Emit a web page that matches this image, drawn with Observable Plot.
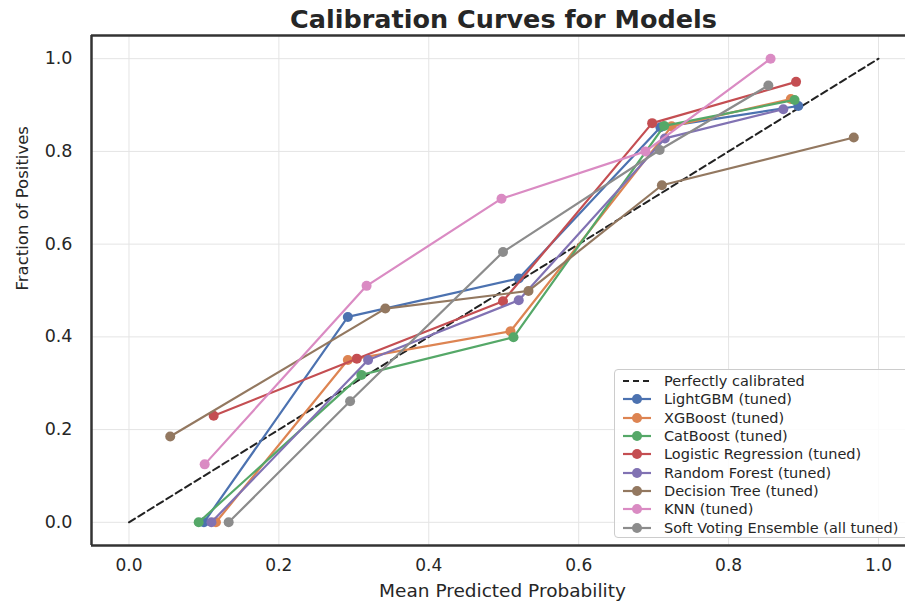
<!DOCTYPE html>
<html>
<head>
<meta charset="utf-8">
<script src="https://cdn.jsdelivr.net/npm/d3@7"></script>
<script src="https://cdn.jsdelivr.net/npm/@observablehq/plot@0.6"></script>
<style>
  html, body { margin: 0; padding: 0; background: #fff; }
  #wrap { position: relative; width: 905px; height: 601px; overflow: hidden; font-family: "DejaVu Sans", sans-serif; }
  #title { position: absolute; top: 3px; left: 91px; width: 825px; text-align: center; font-weight: bold; font-size: 25.5px; line-height: 32px; color: #262626; }
  #chart { position: absolute; top: 30px; left: 0; }
  #legend { position: absolute; left: 614px; top: 369px; width: 300px; height: 169px; box-sizing: border-box;
            border: 1px solid #cccccc; border-radius: 4px; background: rgba(255,255,255,0.85); padding-top: 2px; }
  .row { height: 18.3px; display: flex; align-items: center; font-size: 14.5px; color: #262626; white-space: nowrap; }
  .row svg { margin-left: 7px; margin-right: 12px; flex: none; }
</style>
</head>
<body>
<div id="wrap">
  <div id="title">Calibration Curves for Models</div>
  <div id="chart"></div>
  <div id="legend"></div>
</div>
<script>
// ---- data ----
const models = [
  "LightGBM (tuned)", "XGBoost (tuned)", "CatBoost (tuned)", "Logistic Regression (tuned)",
  "Random Forest (tuned)", "Decision Tree (tuned)", "KNN (tuned)", "Soft Voting Ensemble (all tuned)"
];
const colors = ["#4C72B0", "#DD8452", "#55A868", "#C44E52", "#8172B3", "#937860", "#DA8BC3", "#8C8C8C"];

const lightgbmX = [0.100, 0.292, 0.520, 0.709, 0.893];
const lightgbmY = [0.000, 0.443, 0.526, 0.852, 0.898];
const xgboostX  = [0.116, 0.292, 0.509, 0.724, 0.883];
const xgboostY  = [0.000, 0.350, 0.412, 0.854, 0.913];
const catboostX = [0.093, 0.310, 0.513, 0.714, 0.888];
const catboostY = [0.000, 0.318, 0.399, 0.855, 0.911];
const logregX   = [0.113, 0.304, 0.499, 0.698, 0.890];
const logregY   = [0.230, 0.353, 0.477, 0.861, 0.950];
const rforestX  = [0.110, 0.319, 0.520, 0.715, 0.873];
const rforestY  = [0.000, 0.350, 0.479, 0.828, 0.891];
const dtreeX    = [0.055, 0.342, 0.533, 0.711, 0.967];
const dtreeY    = [0.185, 0.461, 0.499, 0.727, 0.830];
const knnX      = [0.101, 0.317, 0.497, 0.689, 0.856];
const knnY      = [0.125, 0.510, 0.698, 0.800, 1.000];
const ensembleX = [0.133, 0.295, 0.499, 0.708, 0.853];
const ensembleY = [0.000, 0.261, 0.583, 0.803, 0.942];

const perfectX = [0, 1];
const perfectY = [0, 1];

const tickValues = [0, 0.2, 0.4, 0.6, 0.8, 1.0];

const seriesX = [lightgbmX, xgboostX, catboostX, logregX, rforestX, dtreeX, knnX, ensembleX];
const seriesY = [lightgbmY, xgboostY, catboostY, logregY, rforestY, dtreeY, knnY, ensembleY];

// ---- build ----
const perfect = perfectX.map((x, i) => ({x, y: perfectY[i]}));
const seriesMarks = models.flatMap((m, i) => {
  const rows = seriesX[i].map((x, j) => ({model: m, x, y: seriesY[i][j]}));
  return [
    Plot.line(rows, {x: "x", y: "y", stroke: colors[i], strokeWidth: 2.2}),
    Plot.dot(rows, {x: "x", y: "y", fill: colors[i], r: 5, stroke: "none"})
  ];
});

const frameColor = "#333333";
const chart = Plot.plot({
  width: 905,
  height: 571,
  marginLeft: 91,
  marginRight: 0,
  marginTop: 5,
  marginBottom: 56,
  style: {fontFamily: "DejaVu Sans, sans-serif", background: "white", color: "#262626"},
  x: {domain: [-0.05, 1.036], label: null},
  y: {domain: [-0.05, 1.05], label: null},
  marks: [
    Plot.gridX(tickValues, {stroke: "#e4e4e4", strokeOpacity: 1, strokeWidth: 1}),
    Plot.gridY(tickValues, {stroke: "#e4e4e4", strokeOpacity: 1, strokeWidth: 1}),
    Plot.line(perfect, {x: "x", y: "y", stroke: "#222", strokeWidth: 2, strokeDasharray: "7,4"}),
    ...seriesMarks,
    Plot.axisX(tickValues, {tickSize: 0, tickPadding: 13, fontSize: 17, tickFormat: d3.format(".1f"), label: null, fill: "#262626"}),
    Plot.axisY(tickValues, {tickSize: 0, tickPadding: 19, fontSize: 17.5, tickFormat: d3.format(".1f"), label: null, fill: "#262626"}),
    Plot.ruleX([-0.05], {stroke: frameColor, strokeWidth: 2.5}),
    Plot.ruleY([-0.05, 1.05], {stroke: frameColor, strokeWidth: 2.5}),
    Plot.text(["Mean Predicted Probability"], {text: d => d, frameAnchor: "bottom", dy: 51, dx: 4, fontSize: 18.5, fill: "#262626"}),
    Plot.text(["Fraction of Positives"], {text: d => d, frameAnchor: "left", rotate: -90, dx: -69, fontSize: 16.5, fill: "#262626"})
  ]
});
document.getElementById("chart").appendChild(chart);

// ---- legend ----
const legend = document.getElementById("legend");
const entries = [{name: "Perfectly calibrated", color: "#222", dashed: true}]
  .concat(models.map((m, i) => ({name: m, color: colors[i], dashed: false})));
for (const e of entries) {
  const row = document.createElement("div");
  row.className = "row";
  const ns = "http://www.w3.org/2000/svg";
  const s = document.createElementNS(ns, "svg");
  s.setAttribute("width", "30"); s.setAttribute("height", "12");
  const l = document.createElementNS(ns, "line");
  l.setAttribute("x1", "1"); l.setAttribute("x2", "29"); l.setAttribute("y1", "6"); l.setAttribute("y2", "6");
  l.setAttribute("stroke", e.color); l.setAttribute("stroke-width", "2.2");
  if (e.dashed) l.setAttribute("stroke-dasharray", "6,4");
  s.appendChild(l);
  if (!e.dashed) {
    const c = document.createElementNS(ns, "circle");
    c.setAttribute("cx", "15"); c.setAttribute("cy", "6"); c.setAttribute("r", "5"); c.setAttribute("fill", e.color);
    s.appendChild(c);
  }
  row.appendChild(s);
  const t = document.createElement("span");
  t.textContent = e.name;
  row.appendChild(t);
  legend.appendChild(row);
}
</script>
</body>
</html>
